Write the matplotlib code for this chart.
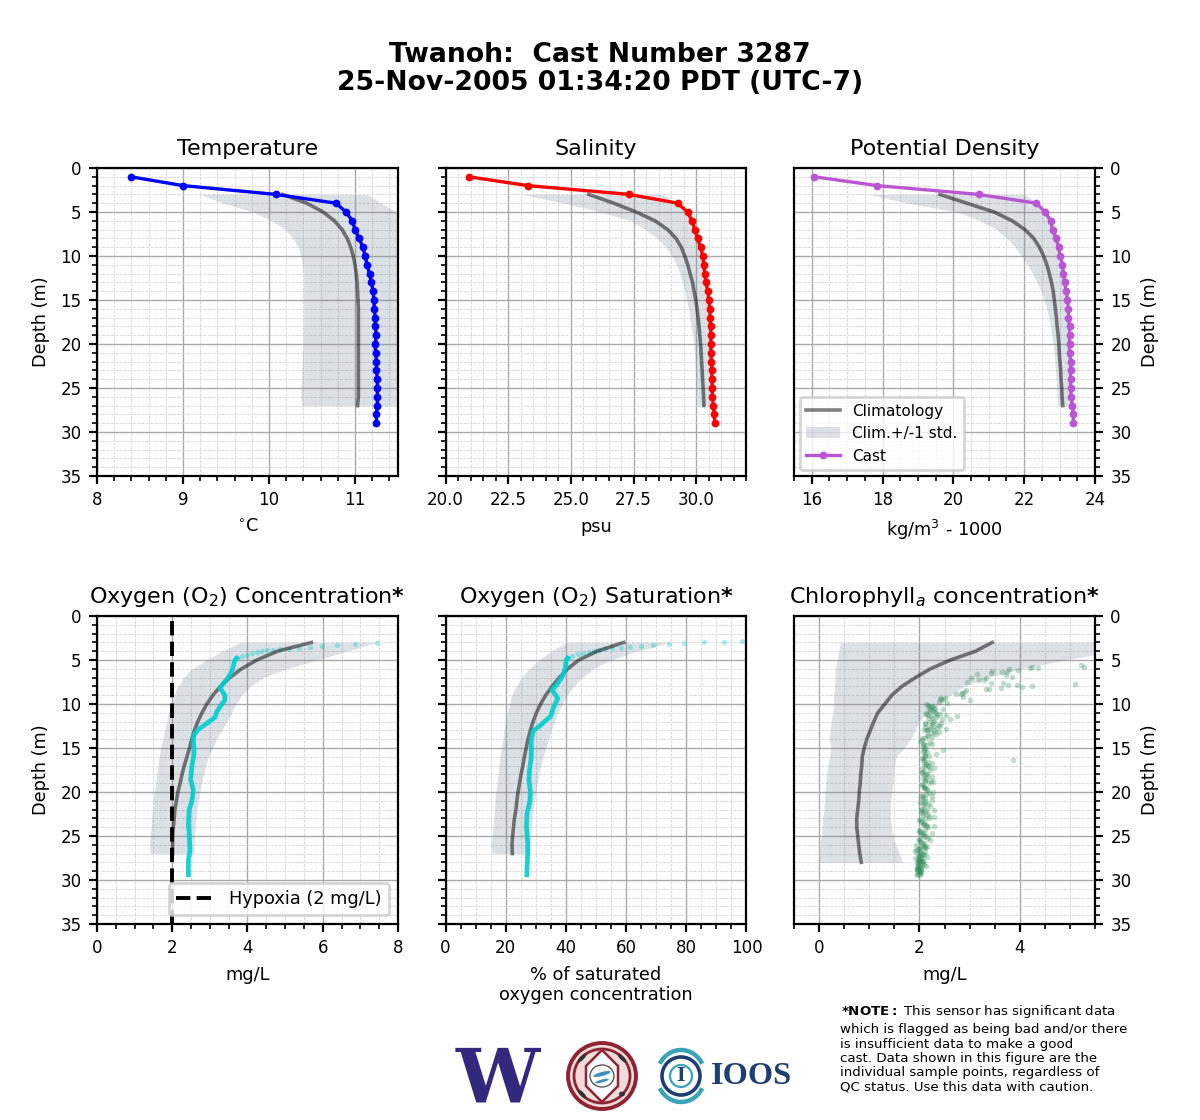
import matplotlib

matplotlib.use("Agg")
import matplotlib.pyplot as plt
from matplotlib.patches import Arc, Circle, Ellipse, Polygon
from matplotlib.ticker import MultipleLocator

plt.rcParams.update({
    "font.family": ["DejaVu Sans"],
    "font.size": 6,
    "axes.titlesize": 8.0,
    "axes.labelsize": 6.4,
    "xtick.labelsize": 6,
    "ytick.labelsize": 6,
    "legend.fontsize": 5.5,
})

depth_cast = list(range(1, 30))
depth_clim = list(range(3, 28))
depth_chl_clim = list(range(3, 29))

# temperature
temp_cast = [8.395, 9.0, 10.08, 10.78, 10.895, 10.97, 11.0, 11.05, 11.09, 11.12, 11.14, 11.17, 11.19, 11.21, 11.22,
             11.225, 11.235, 11.235, 11.25, 11.235, 11.24, 11.25, 11.25, 11.26, 11.26, 11.26, 11.26, 11.25, 11.25]
temp_clim = [10.16, 10.44, 10.63, 10.76, 10.85, 10.91, 10.95, 10.98, 11.0, 11.015, 11.025, 11.03, 11.035, 11.04, 11.04,
             11.04, 11.04, 11.04, 11.04, 11.04, 11.04, 11.04, 11.04, 11.04, 11.03]
temp_low = [9.2, 9.47, 9.82, 10.03, 10.19, 10.28, 10.34, 10.37, 10.39, 10.40, 10.40, 10.40, 10.40, 10.40, 10.40,
            10.40, 10.40, 10.40, 10.39, 10.39, 10.38, 10.38, 10.37, 10.37, 10.38]
temp_high = [11.14, 11.31, 11.48, 11.6, 11.65, 11.68, 11.7, 11.7, 11.7, 11.7, 11.7, 11.7, 11.7, 11.7, 11.7,
             11.7, 11.7, 11.7, 11.7, 11.7, 11.7, 11.7, 11.7, 11.7, 11.7]

# salinity
sal_cast = [20.93, 23.28, 27.31, 29.26, 29.65, 29.83, 29.94, 30.05, 30.17, 30.26, 30.3, 30.34, 30.38, 30.46, 30.5,
            30.54, 30.54, 30.57, 30.58, 30.58, 30.58, 30.6, 30.62, 30.62, 30.64, 30.64, 30.68, 30.71, 30.74]
sal_clim = [25.71, 26.71, 27.6, 28.35, 28.86, 29.19, 29.4, 29.54, 29.66, 29.75, 29.85, 29.91, 29.98, 30.03, 30.07,
            30.11, 30.14, 30.17, 30.19, 30.21, 30.23, 30.25, 30.27, 30.29, 30.3]
sal_low = [23.06, 24.72, 26.18, 27.38, 27.97, 28.44, 28.77, 29.04, 29.21, 29.34, 29.44, 29.54, 29.61, 29.69, 29.74,
           29.79, 29.85, 29.9, 29.93, 29.95, 29.98, 29.99, 30.02, 30.03, 30.03]
sal_high = [28.64, 29.26, 29.7, 29.83, 29.97, 30.07, 30.19, 30.23, 30.3, 30.34, 30.38, 30.41, 30.43, 30.47, 30.49,
            30.51, 30.51, 30.53, 30.54, 30.54, 30.55, 30.57, 30.58, 30.58, 30.59]

# potential density
dens_cast = [16.07, 17.85, 20.71, 22.34, 22.59, 22.75, 22.8, 22.9, 22.97, 23.02, 23.08, 23.11, 23.14, 23.19, 23.22,
             23.25, 23.25, 23.28, 23.28, 23.28, 23.28, 23.31, 23.31, 23.31, 23.31, 23.33, 23.36, 23.39, 23.39]
dens_clim = [19.62, 20.38, 21.15, 21.66, 22.02, 22.27, 22.43, 22.55, 22.64, 22.71, 22.77, 22.82, 22.85, 22.88, 22.91,
             22.93, 22.96, 22.98, 22.99, 23.01, 23.03, 23.04, 23.06, 23.07, 23.09]
dens_low = [17.6, 18.73, 20.1, 20.75, 21.23, 21.51, 21.74, 21.93, 22.09, 22.24, 22.35, 22.47, 22.56, 22.64, 22.69,
            22.74, 22.78, 22.82, 22.84, 22.86, 22.88, 22.9, 22.91, 22.93, 22.94]
dens_high = [21.98, 22.4, 22.68, 22.75, 22.87, 22.95, 22.99, 23.03, 23.07, 23.09, 23.11, 23.13, 23.16, 23.17, 23.18,
             23.2, 23.22, 23.23, 23.25, 23.25, 23.26, 23.26, 23.28, 23.28, 23.3]

# oxygen concentration, sensor samples
o2_dots_x = [7.44, 6.86, 6.39, 5.99, 5.65, 5.38, 5.10, 4.87, 4.69, 4.53, 4.38, 4.25, 4.11, 3.98, 3.85, 3.71]
o2_dots_d = [3.1, 3.2, 3.33, 3.45, 3.56, 3.64, 3.71, 3.79, 3.86, 3.9, 4.0, 4.13, 4.24, 4.4, 4.55, 4.8]
o2_line_x = [3.71, 3.67, 3.64, 3.61, 3.56, 3.47, 3.36, 3.27, 3.40, 3.40, 3.27, 3.18, 3.14, 2.92, 2.69, 2.58, 2.56,
             2.58, 2.58, 2.52, 2.49, 2.56, 2.52, 2.45, 2.43, 2.45, 2.47, 2.43, 2.43]
o2_line_d = [4.8, 5.0, 5.38, 5.95, 6.5, 7.1, 7.65, 8.2, 9.0, 9.55, 10.3, 10.9, 11.5, 12.2, 12.9, 13.5, 14.1,
             15.05, 15.6, 17.1, 18.6, 19.8, 21.1, 22.0, 23.6, 24.7, 26.6, 27.7, 29.4]
o2_clim = [5.7, 4.8, 4.25, 3.84, 3.53, 3.28, 3.08, 2.92, 2.79, 2.68, 2.59, 2.52, 2.46, 2.39, 2.32, 2.26, 2.21, 2.15,
           2.11, 2.07, 2.05, 2.03, 2.01, 2.01, 2.01]
o2_low = [3.8, 3.32, 2.92, 2.52, 2.30, 2.15, 2.05, 1.99, 1.90, 1.85, 1.80, 1.75, 1.69, 1.65, 1.62, 1.59, 1.56, 1.52,
          1.50, 1.48, 1.45, 1.44, 1.41, 1.39, 1.41]
o2_high = [7.44, 6.64, 5.84, 5.05, 4.42, 4.07, 3.85, 3.70, 3.58, 3.45, 3.32, 3.18, 3.08, 2.96, 2.89, 2.83, 2.78, 2.74,
           2.70, 2.65, 2.63, 2.61, 2.59, 2.59, 2.59]

# oxygen saturation
sat_dots_x = [98.6, 92.5, 85.8, 79.4, 74.2, 68.9, 65.0, 61.2, 58.2, 55.4, 52.9, 50.9, 49.3, 47.6, 45.7, 44.0, 42.1, 40.6]
sat_dots_d = [2.8, 2.98, 3.0, 3.1, 3.18, 3.33, 3.4, 3.56, 3.68, 3.68, 3.79, 3.86, 3.94, 4.05, 4.17, 4.32, 4.55, 4.8]
sat_line_x = [40.6, 40.1, 39.9, 39.3, 38.4, 36.9, 35.4, 37.3, 36.0, 34.9, 31.6, 29.1, 28.5, 28.5, 27.9, 27.7, 28.2,
              28.0, 27.1, 26.9, 27.3, 27.3, 27.0]
sat_line_d = [4.8, 5.0, 5.76, 6.5, 7.1, 7.84, 8.4, 9.36, 10.3, 11.4, 12.4, 13.1, 14.1, 16.0, 17.5, 18.6, 20.0,
              21.1, 22.4, 23.9, 25.8, 27.0, 29.4]
sat_clim = [59.2, 50.4, 44.3, 40.6, 37.8, 35.4, 33.3, 31.6, 30.2, 29.1, 28.2, 27.4, 26.8, 26.2, 25.7, 25.1, 24.6, 24.1,
            23.7, 23.4, 22.9, 22.6, 22.3, 22.1, 22.2]
sat_low = [40.4, 34.9, 31.0, 27.7, 25.2, 23.4, 21.9, 21.3, 20.5, 19.9, 19.4, 19.0, 18.5, 18.1, 17.7, 17.4, 17.1, 16.7,
           16.4, 16.2, 16.0, 15.7, 15.5, 15.2, 15.5]
sat_high = [74.8, 63.7, 54.8, 49.3, 45.4, 42.6, 40.4, 38.8, 37.3, 36.2, 35.1, 34.3, 33.3, 32.5, 31.6, 31.0, 30.5, 30.0,
            29.6, 29.1, 28.8, 28.5, 28.2, 28.0, 28.0]

# chlorophyll
chl_clim = [3.45, 3.12, 2.62, 2.22, 1.92, 1.65, 1.45, 1.31, 1.17, 1.09, 1.02, 0.95, 0.90, 0.86, 0.85, 0.83, 0.82, 0.80,
            0.79, 0.77, 0.75, 0.75, 0.77, 0.79, 0.81, 0.84]
chl_low = [0.42, 0.39, 0.36, 0.32, 0.32, 0.31, 0.29, 0.29, 0.27, 0.24, 0.22, 0.2, 0.23, 0.21, 0.17, 0.15, 0.13, 0.12,
           0.11, 0.09, 0.07, 0.06, 0.04, 0.02, 0.01, 0.0]
chl_high = [6.5, 5.9, 4.9, 4.05, 3.35, 2.89, 2.62, 2.38, 2.17, 1.99, 1.91, 1.82, 1.70, 1.53, 1.51, 1.49, 1.48, 1.45,
            1.43, 1.42, 1.42, 1.44, 1.47, 1.53, 1.60, 1.67]
chl_x = [5.22, 5.29, 5.11, 3.87, 4.25, 4.21, 4.37, 3.97, 3.79, 3.75, 3.72, 3.65, 3.67, 3.85, 3.77, 3.94, 4.05, 4.25,
         3.63, 3.44, 3.42, 3.43, 3.32, 3.29, 3.19, 3.15, 3.03, 2.95, 3.32, 3.39, 2.89, 2.85, 2.82, 2.92, 2.72, 2.87,
         3.01, 2.42, 2.39, 2.50, 2.54, 2.45, 2.40,
         2.17, 2.25, 2.32, 2.21, 2.47, 2.35, 2.52, 2.25, 2.61, 2.75, 2.12, 2.25, 2.42, 2.52, 2.15, 2.29, 2.39, 2.21,
         2.20, 2.28, 2.14, 2.34, 2.18, 2.30, 2.27, 2.12, 2.36,
         2.15, 2.05, 2.12, 2.22, 2.09, 2.15, 2.25, 2.47, 2.34, 2.09, 2.12, 2.09, 2.17, 2.25, 2.09, 2.19, 2.29, 2.05,
         2.15, 2.25, 2.12, 2.19, 2.09, 2.15, 2.27, 2.05, 2.12, 2.25, 2.02, 2.09, 2.15, 2.29, 2.05, 2.19, 2.29, 1.99,
         2.09, 2.15, 2.29, 1.99, 2.09, 2.25, 1.99, 2.22, 2.09, 1.94, 2.02, 2.12, 1.92, 1.99, 2.05, 1.92, 1.95, 2.03,
         1.95, 1.99, 1.95, 2.01,
         2.06, 2.08, 2.10, 2.07, 2.12, 2.10, 2.08, 2.13, 2.06, 2.10, 2.14, 2.08, 2.11, 2.05, 2.09, 2.13, 2.07, 2.11,
         2.06, 2.10, 2.04, 2.08, 2.12, 2.03, 2.07, 2.11, 2.02, 2.06, 2.10, 2.01, 2.05, 2.09, 2.00, 2.04, 2.08, 2.00,
         2.03, 2.07, 1.98, 2.02, 2.06, 1.97, 2.01, 2.04, 1.96, 2.00, 2.03, 1.95, 1.98, 2.01, 1.94, 1.97, 2.00, 1.96,
         1.98, 2.02, 1.97, 2.00,
         2.14, 2.20, 2.26, 2.31, 2.18, 2.24, 2.29, 2.33, 2.40, 2.44, 2.13, 2.19, 2.27, 2.37, 2.22, 2.16, 2.30, 2.41,
         2.12, 2.23, 2.34, 2.18, 2.26, 2.10, 2.20,
         2.02, 2.07, 2.11, 2.16, 2.20, 2.05, 2.09, 2.13, 2.18, 2.22, 2.06, 2.10, 2.14, 2.18, 2.23, 2.27, 2.05, 2.09,
         2.12, 2.16, 2.20, 2.25, 2.04, 2.08, 2.12, 2.17, 2.21, 2.03, 2.06, 2.11, 2.15, 2.19, 2.01, 2.05, 2.09, 2.13,
         2.18, 2.00, 2.04, 2.08, 2.13, 2.17, 1.99, 2.03, 2.07, 2.12, 2.16, 1.98, 2.02, 2.06, 2.10, 2.15, 1.97, 2.01,
         2.05, 2.09, 2.13, 1.96, 2.00, 2.04, 2.08, 2.12]
chl_d = [5.57, 5.76, 7.77, 16.4, 5.84, 5.95, 5.95, 6.18, 6.06, 6.37, 6.71, 6.4, 7.6, 6.97, 7.88, 7.88, 8.07, 7.99,
         8.18, 6.29, 6.52, 7.65, 7.09, 7.27, 7.27, 6.63, 7.05, 7.54, 8.34, 8.34, 8.6, 8.79, 8.87, 8.41, 8.9, 9.24,
         9.59, 9.47, 9.74, 9.36, 9.85, 9.6, 9.3,
         10.1, 10.3, 10.5, 10.7, 10.6, 11.25, 11.25, 11.6, 11.75, 11.4, 12.2, 12.3, 12.2, 12.8, 12.95, 13.15, 13.15, 10.9,
         10.2, 10.8, 11.1, 11.0, 11.6, 11.9, 12.5, 12.6, 12.7,
         13.5, 13.9, 13.9, 14.3, 14.5, 14.66, 14.5, 15.27, 15.7, 15.2, 15.7, 16.2, 16.55, 16.7, 17.1, 17.1, 17.3, 17.7,
         17.9, 18.3, 18.6, 19.0, 19.4, 19.8, 20.0, 20.35, 20.7, 20.9, 21.1, 21.5, 22.05, 22.0, 22.4, 22.9, 22.8, 23.2,
         23.6, 23.9, 23.9, 24.5, 24.7, 24.7, 25.3, 25.5, 25.8, 26.0, 26.4, 26.8, 26.7, 27.2, 27.5, 27.5, 28.1, 28.6,
         28.7, 29.05, 29.4, 29.4,
         14.1, 14.8, 15.0, 15.4, 15.9, 16.0, 16.4, 16.9, 17.4, 17.6, 18.0, 18.4, 18.8, 19.2, 19.6, 20.2, 20.5, 21.0,
         21.3, 21.8, 22.2, 22.6, 23.0, 23.4, 23.8, 24.2, 24.4, 24.9, 25.1, 25.6, 26.1, 26.2, 26.5, 26.9, 27.0, 27.3,
         27.6, 27.8, 27.9, 28.2, 28.3, 28.4, 28.5, 28.8, 28.9, 29.0, 29.2, 29.3, 27.1, 27.4, 26.6, 27.7, 28.0, 28.6,
         29.1, 29.15, 28.25, 27.75,
         10.0, 10.4, 10.2, 10.9, 11.2, 11.4, 10.6, 11.5, 11.1, 11.7, 11.0, 12.0, 12.1, 12.4, 12.6, 13.0, 12.9, 12.5,
         12.3, 13.3, 13.4, 13.6, 13.7, 13.0, 12.8,
         14.2, 14.6, 15.1, 15.5, 15.9, 16.1, 16.6, 16.8, 17.2, 17.5, 17.8, 18.1, 18.5, 18.2, 18.7, 18.9, 19.1, 19.3,
         19.5, 19.7, 20.1, 20.4, 20.6, 20.8, 21.2, 21.4, 21.6, 21.9, 22.1, 22.3, 22.5, 22.7, 23.1, 23.3, 23.5, 23.7,
         24.0, 24.3, 24.6, 24.8, 25.0, 25.2, 25.4, 25.7, 25.9, 26.1, 26.3, 26.5, 26.7, 27.0, 27.2, 27.4, 27.6, 27.8,
         28.0, 28.2, 28.4, 28.6, 28.8, 29.0, 27.9, 26.4]

fig, axes = plt.subplots(2, 3, figsize=(6, 5.6), dpi=200, sharey=True)
fig.subplots_adjust(left=97 / 1200, right=1095 / 1200, top=1 - 168 / 1120, bottom=1 - 924 / 1120,
                    wspace=0.158, hspace=0.4545)

CLIM_KW = dict(color="black", alpha=0.5, lw=1.3)
BAND_KW = dict(color="lightslategrey", alpha=0.25, lw=0)
CAST_KW = dict(marker="o", ms=1.8, lw=1.2)

ax = axes[0, 0]
ax.plot(temp_clim, depth_clim, **CLIM_KW)
ax.fill_betweenx(depth_clim, temp_low, temp_high, **BAND_KW)
ax.plot(temp_cast, depth_cast, color="blue", **CAST_KW)
ax.set_xlim(8, 11.5)
ax.set_title("Temperature", pad=4.6)
ax.set_xlabel(r"$^{\circ}$C")
ax.xaxis.set_major_locator(MultipleLocator(1))
ax.xaxis.set_minor_locator(MultipleLocator(0.2))

ax = axes[0, 1]
ax.plot(sal_clim, depth_clim, **CLIM_KW)
ax.fill_betweenx(depth_clim, sal_low, sal_high, **BAND_KW)
ax.plot(sal_cast, depth_cast, color="red", **CAST_KW)
ax.set_xlim(20, 32)
ax.set_title("Salinity", pad=4.6)
ax.set_xlabel("psu")
ax.xaxis.set_major_locator(MultipleLocator(2.5))
ax.xaxis.set_minor_locator(MultipleLocator(0.5))

ax = axes[0, 2]
ax.plot(dens_clim, depth_clim, label="Climatology", **CLIM_KW)
ax.fill_betweenx(depth_clim, dens_low, dens_high, label="Clim.+/-1 std.", **BAND_KW)
ax.plot(dens_cast, depth_cast, color="mediumorchid", label="Cast", **CAST_KW)
ax.set_xlim(15.5, 24)
ax.set_title("Potential Density", pad=4.6)
ax.set_xlabel(r"kg/m$^3$ - 1000")
ax.xaxis.set_major_locator(MultipleLocator(2))
ax.xaxis.set_minor_locator(MultipleLocator(0.5))
ax.legend(loc="lower left", fontsize=5.5, handlelength=2.2, borderaxespad=0.4)

ax = axes[1, 0]
ax.plot(o2_clim, depth_clim, **CLIM_KW)
ax.fill_betweenx(depth_clim, o2_low, o2_high, **BAND_KW)
ax.plot(o2_line_x, o2_line_d, color="darkturquoise", lw=1.7, alpha=0.9)
ax.scatter(o2_dots_x, o2_dots_d, s=3.5, color="darkturquoise", alpha=0.35, lw=0)
ax.axvline(2, color="black", ls="--", lw=1.4, label="Hypoxia (2 mg/L)")
ax.set_xlim(0, 8)
ax.set_title(r"Oxygen (O$_2$) Concentration$\bf{*}$", pad=4.6)
ax.set_xlabel("mg/L")
ax.xaxis.set_major_locator(MultipleLocator(2))
ax.xaxis.set_minor_locator(MultipleLocator(0.5))
ax.legend(loc="lower right", fontsize=6.4, handlelength=2.2)

ax = axes[1, 1]
ax.plot(sat_clim, depth_clim, **CLIM_KW)
ax.fill_betweenx(depth_clim, sat_low, sat_high, **BAND_KW)
ax.plot(sat_line_x, sat_line_d, color="darkturquoise", lw=1.7, alpha=0.9)
ax.scatter(sat_dots_x, sat_dots_d, s=3.5, color="darkturquoise", alpha=0.35, lw=0, clip_on=False)
ax.set_xlim(0, 100)
ax.set_title(r"Oxygen (O$_2$) Saturation$\bf{*}$", pad=4.6)
ax.set_xlabel("% of saturated\noxygen concentration")
ax.xaxis.set_major_locator(MultipleLocator(20))
ax.xaxis.set_minor_locator(MultipleLocator(5))

ax = axes[1, 2]
ax.plot(chl_clim, depth_chl_clim, **CLIM_KW)
ax.fill_betweenx(depth_chl_clim, chl_low, chl_high, **BAND_KW)
ax.scatter(chl_x, chl_d, s=4, color="seagreen", alpha=0.3, lw=0)
ax.set_xlim(-0.5, 5.5)
ax.set_title(r"Chlorophyll$_a$ concentration$\bf{*}$", pad=4.6)
ax.set_xlabel("mg/L")
ax.xaxis.set_major_locator(MultipleLocator(2))
ax.xaxis.set_minor_locator(MultipleLocator(0.5))

for row in range(2):
    for col in range(3):
        ax = axes[row, col]
        ax.set_ylim(35, 0)
        ax.yaxis.set_major_locator(MultipleLocator(5))
        ax.yaxis.set_minor_locator(MultipleLocator(1))
        ax.grid(True, which="major", color="darkgray", lw=0.5)
        ax.grid(True, which="minor", color="lightgray", lw=0.3, ls="--")
        ax.set_axisbelow(True)
        ax.tick_params(which="major", length=3, width=0.8, pad=2.5)
        ax.tick_params(which="minor", length=1.7, width=0.6)
        ax.xaxis.labelpad = 3
        if col == 0:
            ax.set_ylabel("Depth (m)", labelpad=3.8)
        if col == 1:
            ax.tick_params(axis="y", which="both", labelleft=False)
        if col == 2:
            ax.yaxis.set_label_position("right")
            ax.yaxis.tick_right()
            ax.tick_params(axis="y", which="both", labelright=True, left=False)
            ax.set_ylabel("Depth (m)", labelpad=3.5)

fig.text(0.5, 1 - 54.5 / 1120, "Twanoh:  Cast Number 3287", ha="center", va="center", fontsize=9.6, fontweight="bold")
fig.text(0.5, 1 - 83.5 / 1120, "25-Nov-2005 01:34:20 PDT (UTC-7)", ha="center", va="center", fontsize=9.6,
         fontweight="bold")

fig.text(841 / 1200, 1 - 1012 / 1120, r"$\bf{*NOTE:}$ This sensor has significant data", fontsize=4.8, va="center")
fig.text(840 / 1200, 1 - 1058.5 / 1120,
         "which is flagged as being bad and/or there\nis insufficient data to make a good\n"
         "cast. Data shown in this figure are the\nindividual sample points, regardless of\n"
         "QC status. Use this data with caution.", fontsize=4.8, va="center", linespacing=1.13)

# logos along the bottom, drawn in pixel coordinates
logo = fig.add_axes([0, 0, 1, 1], zorder=-1)
logo.set_xlim(0, 1200)
logo.set_ylim(1120, 0)
logo.axis("off")

logo.text(498, 1101, "W", family="DejaVu Serif", fontweight="bold", fontsize=27, color="#32297e",
          ha="center", va="baseline")

maroon = "#8f2435"
logo.add_patch(Ellipse((602, 1076), 68, 66, fc="#f0dada", ec=maroon, lw=1.4))
logo.add_patch(Ellipse((602, 1076), 56, 54, fc="none", ec=maroon, lw=1.0))
logo.add_patch(Polygon([(602, 1050), (618, 1066), (618, 1086), (602, 1102), (586, 1086), (586, 1066)],
                       fc="white", ec=maroon, lw=0.9))
logo.add_patch(Ellipse((602, 1076), 24, 22, fc="#ffffff", ec="#555555", lw=0.5))
logo.add_patch(Ellipse((602, 1074), 18, 4, angle=-15, fc="#3f8fc0", ec="none"))
logo.add_patch(Ellipse((602, 1081), 14, 3, angle=-15, fc="#3f8fc0", ec="none"))
logo.add_patch(Ellipse((622, 1058), 12, 4, angle=45, fc="#333333", ec="none"))
logo.add_patch(Ellipse((582, 1058), 12, 4, angle=-45, fc="#333333", ec="none"))
logo.add_patch(Ellipse((582, 1094), 12, 4, angle=45, fc="#333333", ec="none"))
logo.add_patch(Ellipse((622, 1094), 6, 5, fc="#333333", ec="none"))

logo.add_patch(Arc((681, 1076), 48, 52, theta1=30, theta2=150, color="#3aa3b5", lw=1.6))
logo.add_patch(Arc((681, 1076), 48, 52, theta1=210, theta2=330, color="#3aa3b5", lw=1.6))
logo.add_patch(Circle((681, 1076), 19, fc="none", ec="#1f3f74", lw=1.3))
logo.add_patch(Circle((681, 1076), 11, fc="none", ec="#3aa3b5", lw=0.8))
logo.text(681, 1076, "I", family="Liberation Serif", fontweight="bold", fontsize=8, color="#1f3f74",
          ha="center", va="center")
logo.text(711, 1076, "IOOS", family="Liberation Serif", fontweight="bold", fontsize=11.6, color="#1f3f74",
          ha="left", va="center")

fig.savefig("out.png", dpi=200)
